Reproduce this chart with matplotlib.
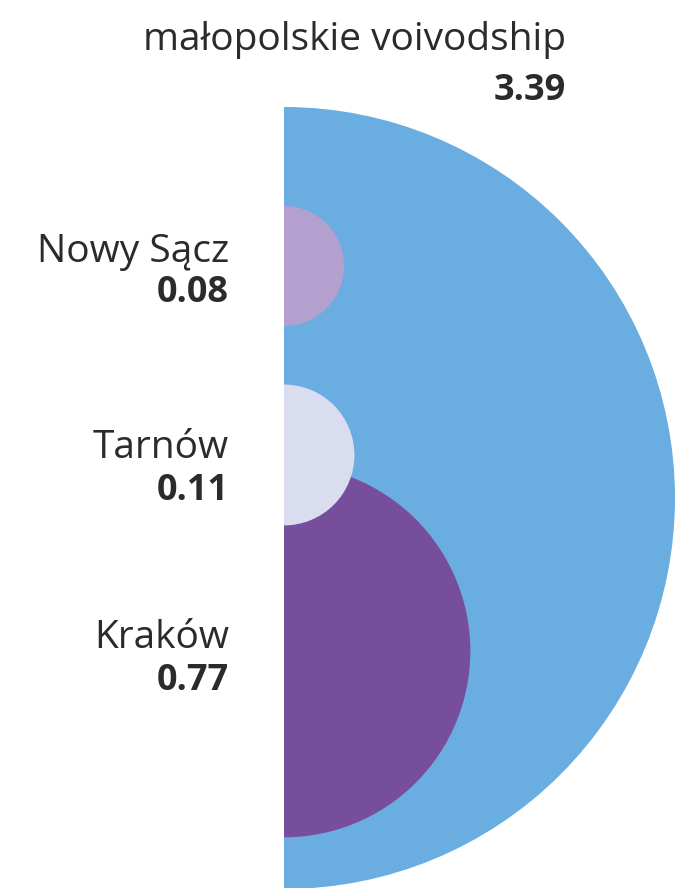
import numpy as np
import matplotlib.pyplot as plt
from matplotlib.patches import Wedge

# data
names = ['małopolskie voivodship', 'Kraków', 'Tarnów', 'Nowy Sącz']
values = [3.39, 0.77, 0.11, 0.08]
colors = ['#6AADE0', '#774E9B', '#DADCF0', '#B3A0CE']

# layout (pixel units, y grows downward)
x0 = 284
R = 391
centers_y = [498, 651, 455, 266]
label_y = [50, 648, 458, 262]
value_y = [100, 690, 500, 302]
label_x = [566, 229, 229, 229]

plt.rcParams['font.family'] = ['Open Sans', 'DejaVu Sans']
text_color = '#2B2B2B'

fig = plt.figure(figsize=(6.99, 8.88), dpi=100)
ax = fig.add_axes([0, 0, 1, 1])
ax.set_xlim(0, 699)
ax.set_ylim(888, 0)
ax.axis('off')

for name, v, c, cy in zip(names, values, colors, centers_y):
    r = R * np.sqrt(v / values[0])
    ax.add_patch(Wedge((x0, cy), r, -90, 90, facecolor=c, edgecolor='none'))

for name, v, lx, ly, vy in zip(names, values, label_x, label_y, value_y):
    ax.text(lx, ly, name, ha='right', va='baseline', fontsize=28,
            color=text_color)
    ax.text(lx, vy, f'{v:.2f}', ha='right', va='baseline', fontsize=26,
            fontweight='bold', color=text_color)

fig.savefig('out.png', dpi=100)
